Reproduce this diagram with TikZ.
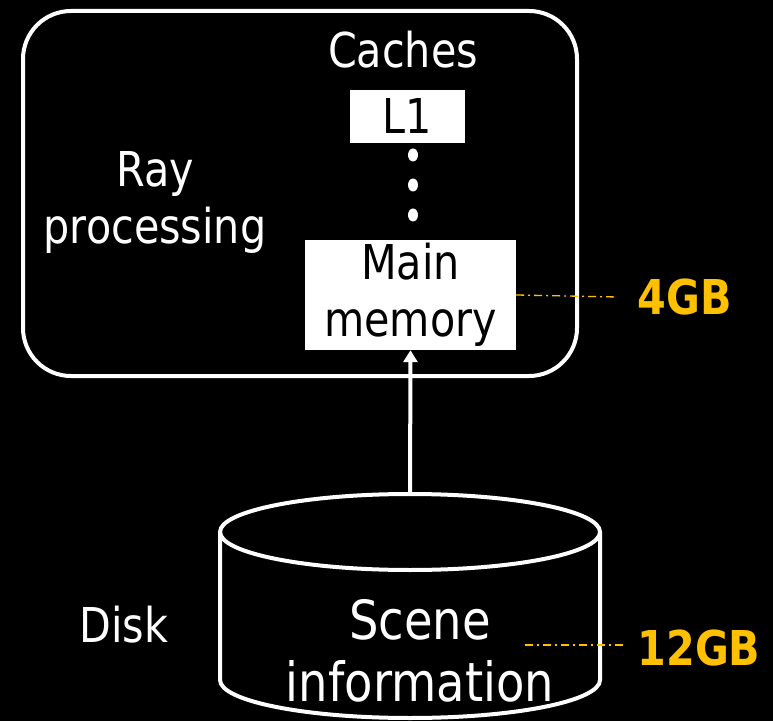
\documentclass[tikz,border=0pt]{standalone}
\usepackage{fontspec}
\setmainfont{DejaVu Sans}[FakeStretch=0.86]
\usetikzlibrary{arrows.meta}
\definecolor{gold}{HTML}{FFC000}
\begin{document}
\begin{tikzpicture}[x=1pt,y=1pt,
  txt/.style={text=white,font=\fontsize{48}{57}\selectfont,align=center,inner sep=0pt},
  big/.style={text=white,font=\fontsize{54}{62}\selectfont,align=center,inner sep=0pt},
  wbox/.style={fill=white,text=black,font=\fontsize{48}{57}\selectfont,align=center,inner sep=0pt},
  gb/.style={text=gold,font=\fontsize{48}{50}\selectfont\bfseries,inner sep=0pt},
  dd/.style={draw=gold,line width=1.3pt,dash pattern=on 8pt off 4pt on 2pt off 4pt},
  wline/.style={draw=white,line width=4pt}]
\fill[black] (0,0) rectangle (773,721);
\useasboundingbox (0,0) rectangle (773,721);
% processor box
\draw[wline,rounded corners=48pt] (23,345) rectangle (577,710);
\node[txt] (caches) at (403,671) {Caches};
\node[wbox,minimum width=115pt,minimum height=53pt] (l1) at (407.5,604.5) {L1};
\foreach \y/\n in {566/d1,536/d2,506/d3}
  \fill[white] (413,\y) ellipse [x radius=5pt,y radius=6.5pt];
\node[wbox,minimum width=211pt,minimum height=110pt] (main) at (410.5,426) {Main\\memory};
\node[txt] (ray) at (155,519) {Ray\\processing};
% disk cylinder
\draw[wline] (220,189) -- (220,41) arc[start angle=180,end angle=360,x radius=190,y radius=38] -- (600,189);
\draw[wline] (410,189) ellipse [x radius=190pt,y radius=38pt];
\coordinate (disktop) at (410,227);
\node[big] (scene) at (420,70) {Scene\\information};
\node[txt] (disk) at (124,96) {Disk};
% arrow
\draw[white,line width=4pt,-{Triangle[width=14pt,length=12pt]}] (disktop) -- (main.south);
% sizes
\node[gb] (g4) at (685,424) {4GB};
\node[gb] (g12) at (699,73) {12GB};
\draw[dd] (main.east) -- (g4.west -| 618,0) ;
\coordinate (s12) at (525,76);
\draw[dd] (s12) -- (623,76);
\end{tikzpicture}
\end{document}
